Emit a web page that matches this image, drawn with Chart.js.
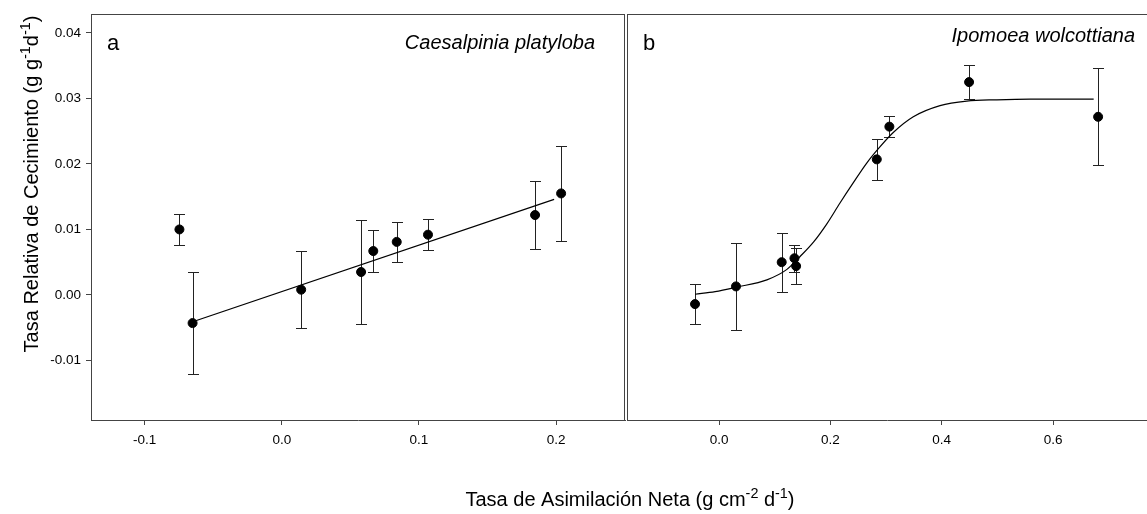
<!DOCTYPE html>
<html>
<head>
<meta charset="utf-8">
<script src="https://cdn.jsdelivr.net/npm/chart.js@4.4.1/dist/chart.umd.min.js"></script>
<style>
  html, body { margin: 0; padding: 0; background: #fff; }
  #wrap { position: relative; width: 1147px; height: 514px; }
  #ca, #cb { position: absolute; top: 0; }
  #ca { left: 0; }
  #cb { left: 626px; }
</style>
</head>
<body>
<div id="wrap">
  <canvas id="ca" width="1147" height="514"></canvas>
  <canvas id="cb" width="521" height="514"></canvas>
</div>
<script>
// panel a - Caesalpinia platyloba
var a_x   = [-0.0747, -0.0651, 0.0141, 0.0578, 0.0667, 0.0838, 0.1066, 0.1847, 0.2037];
var a_y   = [0.0100, -0.0043, 0.0008, 0.0035, 0.0067, 0.0081, 0.0092, 0.0122, 0.0155];
var a_err = [0.0023, 0.0078, 0.0059, 0.0079, 0.0032, 0.0031, 0.0024, 0.0052, 0.0073];
var a_fit_x = [-0.065, 0.1986];
var a_fit_y = [-0.0041, 0.0146];

// panel b - Ipomoea wolcottiana
var b_x   = [-0.0431, 0.0305, 0.1126, 0.1355, 0.1385, 0.2834, 0.3060, 0.4492, 0.6810];
var b_y   = [-0.0014, 0.0013, 0.0050, 0.0056, 0.0044, 0.0207, 0.0257, 0.0325, 0.0272];
var b_err = [0.0030, 0.0066, 0.0045, 0.0021, 0.0028, 0.0031, 0.0016, 0.0026, 0.0074];
// sigmoid fit
var b_fit_x = [-0.043, -0.007, 0.032, 0.086, 0.122, 0.146, 0.170, 0.194, 0.217, 0.241, 0.265, 0.289, 0.313, 0.349, 0.397, 0.445, 0.499, 0.559, 0.673];
var b_fit_y = [0.0001, 0.0005, 0.0012, 0.0023, 0.0039, 0.0059, 0.0081, 0.0109, 0.0140, 0.0171, 0.0201, 0.0226, 0.0248, 0.0272, 0.0289, 0.0296, 0.0298, 0.0299, 0.0299];

var y_ticks   = [-0.01, 0.00, 0.01, 0.02, 0.03, 0.04];
var a_x_ticks = [-0.1, 0.0, 0.1, 0.2];
var b_x_ticks = [0.0, 0.2, 0.4, 0.6];

var FONT = "'Liberation Sans', Arial, Helvetica, sans-serif";
Chart.defaults.font.family = FONT;
Chart.defaults.color = '#000';

function pts(xs, ys) {
    return xs.map(function (x, i) { return {x: x, y: ys[i]}; });
}

// draws a string made of normal and superscript pieces
function richText(ctx, parts, x, y, size) {
    var w = 0;
    parts.forEach(function (p) {
        ctx.font = (p[1] ? size * 0.72 : size) + 'px ' + FONT;
        w += ctx.measureText(p[0]).width;
    });
    var cx = x - w / 2;
    parts.forEach(function (p) {
        ctx.font = (p[1] ? size * 0.72 : size) + 'px ' + FONT;
        ctx.fillText(p[0], cx, p[1] ? y - size * 0.42 : y);
        cx += ctx.measureText(p[0]).width;
    });
}

var errorBars = {
    id: 'errorBars',
    beforeDatasetsDraw: function (chart) {
        var ctx = chart.ctx, xs = chart.scales.x, ys = chart.scales.y;
        ctx.save();
        ctx.strokeStyle = '#222';
        ctx.lineWidth = 1;
        chart.data.datasets.forEach(function (ds) {
            if (!ds.errors) return;
            ds.data.forEach(function (p, i) {
                var px = Math.round(xs.getPixelForValue(p.x)) + 0.5;
                var top = Math.round(ys.getPixelForValue(p.y + ds.errors[i])) + 0.5;
                var bot = Math.round(ys.getPixelForValue(p.y - ds.errors[i])) + 0.5;
                ctx.beginPath();
                ctx.moveTo(px, top); ctx.lineTo(px, bot);
                ctx.moveTo(px - 5.5, top); ctx.lineTo(px + 5.5, top);
                ctx.moveTo(px - 5.5, bot); ctx.lineTo(px + 5.5, bot);
                ctx.stroke();
            });
        });
        ctx.restore();
    }
};

var frame = {
    id: 'frame',
    afterDraw: function (chart, args, opts) {
        var ctx = chart.ctx, a = chart.chartArea;
        ctx.save();
        ctx.strokeStyle = '#444';
        ctx.lineWidth = 1;
        ctx.beginPath();
        ctx.moveTo(a.left, a.top + 0.5); ctx.lineTo(a.right, a.top + 0.5);
        if (opts.right) { ctx.moveTo(a.right - 0.5, a.top); ctx.lineTo(a.right - 0.5, a.bottom); }
        if (opts.left) { ctx.moveTo(a.left + 0.5, a.top); ctx.lineTo(a.left + 0.5, a.bottom); }
        ctx.stroke();

        ctx.fillStyle = '#000';
        ctx.textBaseline = 'alphabetic';
        ctx.textAlign = 'left';
        ctx.font = '22px ' + FONT;
        ctx.fillText(opts.letter, opts.letterX, 50);
        ctx.textAlign = 'right';
        ctx.font = 'italic 20px ' + FONT;
        ctx.fillText(opts.species, opts.speciesX, opts.speciesY);

        if (opts.titles) {
            ctx.textAlign = 'left';
            richText(ctx, [['Tasa de Asimilación Neta (g cm', false], ['-2', true], [' d', false], ['-1', true], [')', false]], 630, 506, 20);
            ctx.translate(38, 184);
            ctx.rotate(-Math.PI / 2);
            richText(ctx, [['Tasa Relativa de Cecimiento (g g', false], ['-1', true], ['d', false], ['-1', true], [')', false]], 0, 0, 20);
        }
        ctx.restore();
    }
};

function yScale(show) {
    return {
        type: 'linear', min: -0.0191, max: 0.0429, display: show,
        afterBuildTicks: function (s) { s.ticks = y_ticks.map(function (v) { return {value: v}; }); },
        afterFit: function (s) { if (show) s.width = 91; },
        ticks: { callback: function (v) { return v.toFixed(2); }, font: {size: 13.5}, padding: 5, color: '#000' },
        grid: { drawOnChartArea: false, drawTicks: true, tickLength: 5, color: '#444' },
        border: { color: '#444' }
    };
}

function xScale(min, max, tickVals) {
    return {
        type: 'linear', min: min, max: max,
        afterBuildTicks: function (s) { s.ticks = tickVals.map(function (v) { return {value: v}; }); },
        afterFit: function (s) { s.height = 94; },
        ticks: { callback: function (v) { return v.toFixed(1); }, font: {size: 13.5}, padding: 7, color: '#000', autoSkip: false, maxRotation: 0 },
        grid: { drawOnChartArea: false, drawTicks: true, tickLength: 5, color: '#444' },
        border: { color: '#444' }
    };
}

function datasets(xs, ys, errs, fx, fy, curved) {
    return [{
        data: pts(fx, fy), showLine: true, pointRadius: 0, borderColor: '#000', borderWidth: 1.2,
        cubicInterpolationMode: curved ? 'monotone' : 'default', fill: false
    }, {
        data: pts(xs, ys), errors: errs, pointRadius: 4.5, pointBackgroundColor: '#000', pointBorderColor: '#000', showLine: false
    }];
}

new Chart(document.getElementById('ca'), {
    type: 'scatter',
    data: { datasets: datasets(a_x, a_y, a_err, a_fit_x, a_fit_y, false) },
    options: {
        responsive: false, animation: false, devicePixelRatio: 1, events: [],
        layout: { autoPadding: false, padding: {left: 0, top: 14, right: 522, bottom: 0} },
        scales: { x: xScale(-0.1392, 0.2503, a_x_ticks), y: yScale(true) },
        plugins: {
            legend: {display: false}, tooltip: {enabled: false},
            frame: { right: true, left: false, letter: 'a', letterX: 107, species: 'Caesalpinia platyloba', speciesX: 595, speciesY: 49, titles: true }
        }
    },
    plugins: [errorBars, frame]
});

new Chart(document.getElementById('cb'), {
    type: 'scatter',
    data: { datasets: datasets(b_x, b_y, b_err, b_fit_x, b_fit_y, true) },
    options: {
        responsive: false, animation: false, devicePixelRatio: 1, events: [],
        layout: { autoPadding: false, padding: {left: 1, top: 14, right: 0, bottom: 0} },
        scales: { x: xScale(-0.1653, 0.7688, b_x_ticks), y: yScale(false) },
        plugins: {
            legend: {display: false}, tooltip: {enabled: false},
            frame: { right: false, left: true, letter: 'b', letterX: 17, species: 'Ipomoea wolcottiana', speciesX: 509, speciesY: 42, titles: false }
        }
    },
    plugins: [errorBars, frame]
});
</script>
</body>
</html>
